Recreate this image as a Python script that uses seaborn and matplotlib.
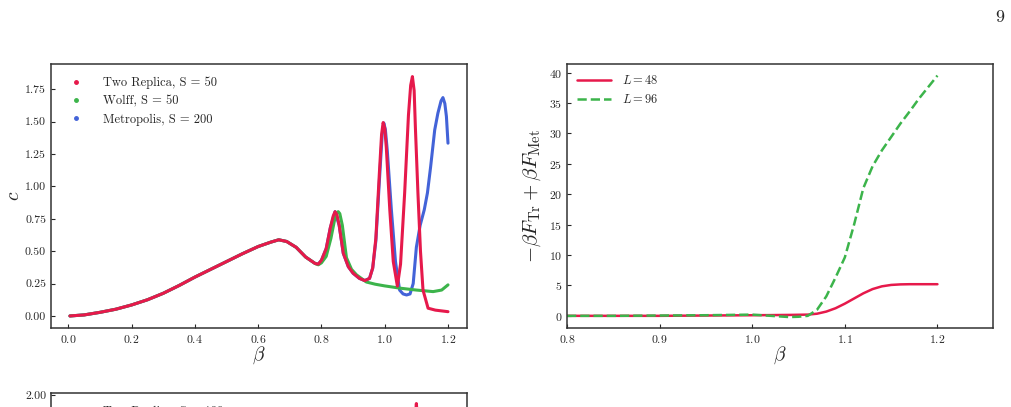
import matplotlib
matplotlib.use("Agg")
import matplotlib.pyplot as plt
from matplotlib.lines import Line2D
from matplotlib.ticker import FormatStrFormatter
import pandas as pd
import seaborn as sns

# ---- left panel: specific heat c vs beta ----
# part shared by all three runs
beta_low = [0.005, 0.05, 0.1, 0.15, 0.2, 0.25, 0.3, 0.35, 0.4, 0.45, 0.5,
            0.55, 0.6, 0.64, 0.665, 0.69, 0.72, 0.75, 0.78]
c_low = [0.0, 0.008, 0.028, 0.052, 0.085, 0.125, 0.175, 0.235, 0.30, 0.36,
         0.42, 0.48, 0.536, 0.57, 0.588, 0.575, 0.53, 0.455, 0.405]

# Two Replica, S = 50
beta_tr = [0.79, 0.80, 0.815, 0.828, 0.837, 0.843, 0.849, 0.856, 0.869, 0.885,
           0.9, 0.92, 0.937, 0.952, 0.962, 0.972, 0.983, 0.99, 0.995, 1.0,
           1.005, 1.016, 1.027, 1.04, 1.05, 1.063, 1.075, 1.082, 1.0875, 1.093,
           1.097, 1.105, 1.113, 1.121, 1.137, 1.16, 1.2]
c_tr = [0.40, 0.43, 0.52, 0.68, 0.77, 0.805, 0.78, 0.70, 0.484, 0.38, 0.33,
        0.29, 0.273, 0.29, 0.37, 0.60, 1.10, 1.40, 1.493, 1.45, 1.30, 0.82,
        0.42, 0.23, 0.40, 0.95, 1.55, 1.78, 1.848, 1.74, 1.45, 0.947, 0.50,
        0.20, 0.06, 0.045, 0.033]

# Wolff, S = 50
beta_wo = [0.79, 0.80, 0.815, 0.83, 0.843, 0.849, 0.853, 0.858, 0.866, 0.879,
           0.895, 0.911, 0.942, 0.97, 1.0, 1.05, 1.1, 1.153, 1.18, 1.2]
c_wo = [0.395, 0.41, 0.46, 0.60, 0.76, 0.795, 0.805, 0.79, 0.70, 0.45, 0.36,
        0.317, 0.262, 0.245, 0.232, 0.214, 0.20, 0.188, 0.20, 0.24]

# Metropolis, S = 200
beta_me = [0.79, 0.80, 0.815, 0.828, 0.843, 0.856, 0.869, 0.885, 0.9, 0.92,
           0.937, 0.952, 0.962, 0.972, 0.984, 0.992, 0.997, 1.002, 1.008,
           1.021, 1.034, 1.047, 1.058, 1.069, 1.08, 1.09, 1.1, 1.112, 1.125,
           1.135, 1.145, 1.158, 1.168, 1.178, 1.184, 1.19, 1.195, 1.2]
c_me = [0.40, 0.43, 0.52, 0.68, 0.805, 0.70, 0.484, 0.38, 0.33, 0.29, 0.273,
        0.29, 0.37, 0.58, 1.08, 1.40, 1.49, 1.44, 1.28, 0.82, 0.42, 0.20,
        0.17, 0.162, 0.17, 0.25, 0.53, 0.70, 0.82, 0.95, 1.15, 1.436, 1.565,
        1.66, 1.686, 1.64, 1.54, 1.334]

# ---- right panel: free energy difference ----
beta_48 = [0.8, 0.85, 0.9, 0.95, 1.0, 1.02, 1.04, 1.06, 1.07, 1.08, 1.09,
           1.1, 1.11, 1.12, 1.13, 1.14, 1.15, 1.16, 1.17, 1.2]
f_48 = [0.0, 0.0, 0.0, 0.05, 0.1, 0.12, 0.15, 0.2, 0.35, 0.7, 1.25, 2.0,
        2.85, 3.7, 4.4, 4.85, 5.08, 5.17, 5.2, 5.2]
beta_96 = [0.8, 0.85, 0.9, 0.95, 1.0, 1.02, 1.04, 1.05, 1.06, 1.07, 1.08,
           1.09, 1.1, 1.11, 1.12, 1.13, 1.14, 1.15, 1.16, 1.17, 1.18, 1.19, 1.2]
f_96 = [0.0, 0.0, 0.05, 0.1, 0.2, 0.0, -0.2, -0.15, 0.0, 1.0, 3.2, 6.3, 9.6,
        15.0, 21.0, 24.6, 27.2, 29.4, 31.6, 33.6, 35.7, 37.6, 39.5]

# ---- bottom panel (only its top edge is on the page) ----
beta_b = [1.08, 1.09, 1.1, 1.11, 1.12]
c_b = [0.9, 1.6, 1.93, 1.6, 0.9]

red, green, blue = "#e6194b", "#3cb44b", "#4363d8"

sns.set_style("ticks")
plt.rcParams.update({
    "font.family": "serif",
    "font.serif": ["cmr10"],
    "mathtext.fontset": "cm",
    "axes.unicode_minus": False,
    "axes.formatter.use_mathtext": True,
    "xtick.direction": "in",
    "ytick.direction": "in",
    "xtick.major.size": 3.2,
    "ytick.major.size": 3.2,
    "xtick.labelsize": 8.5,
    "ytick.labelsize": 8.5,
    "axes.edgecolor": "#333333",
    "axes.linewidth": 1.1,
})

fig = plt.figure(figsize=(10.11, 4.07), dpi=100)
ax1 = fig.add_axes([0.0504, 0.1941, 0.4115, 0.6486])
ax2 = fig.add_axes([0.5608, 0.1941, 0.4214, 0.6486])
ax3 = fig.add_axes([0.0504, -0.614, 0.4115, 0.6486])

df_me = pd.DataFrame({"beta": beta_low + beta_me, "c": c_low + c_me})
df_wo = pd.DataFrame({"beta": beta_low + beta_wo, "c": c_low + c_wo})
df_tr = pd.DataFrame({"beta": beta_low + beta_tr, "c": c_low + c_tr})
sns.lineplot(data=df_me, x="beta", y="c", ax=ax1, color=blue, linewidth=2.2)
sns.lineplot(data=df_wo, x="beta", y="c", ax=ax1, color=green, linewidth=2.2)
sns.lineplot(data=df_tr, x="beta", y="c", ax=ax1, color=red, linewidth=2.2)
ax1.set_xlim(-0.055, 1.26)
ax1.set_ylim(-0.093, 1.945)
ax1.set_yticks([0, 0.25, 0.5, 0.75, 1.0, 1.25, 1.5, 1.75])
ax1.yaxis.set_major_formatter(FormatStrFormatter("%.2f"))
ax1.set_xlabel(r"$\beta$", fontsize=14, labelpad=0)
ax1.set_ylabel(r"$c$", fontsize=14, labelpad=1)
handles = [Line2D([], [], color=col, marker="o", linestyle="none", markersize=2.5)
           for col in (red, green, blue)]
ax1.legend(handles, ["Two Replica, S = 50", "Wolff, S = 50", "Metropolis, S = 200"],
           loc="upper left", frameon=False, fontsize=9, handletextpad=1.2,
           borderaxespad=0.6)

df_48 = pd.DataFrame({"beta": beta_48, "f": f_48})
df_96 = pd.DataFrame({"beta": beta_96, "f": f_96})
sns.lineplot(data=df_48, x="beta", y="f", ax=ax2, color=red, linewidth=1.8,
             label=r"$L = 48$")
sns.lineplot(data=df_96, x="beta", y="f", ax=ax2, color=green, linewidth=1.8,
             linestyle="--", label=r"$L = 96$")
ax2.set_xlim(0.8, 1.26)
ax2.set_ylim(-2.0, 41.4)
ax2.set_xticks([0.8, 0.9, 1.0, 1.1, 1.2])
ax2.set_yticks(range(0, 41, 5))
ax2.set_xlabel(r"$\beta$", fontsize=14, labelpad=0)
ax2.set_ylabel(r"$-\beta F_{\rm Tr} + \beta F_{\rm Met}$", fontsize=15, labelpad=4)
ax2.legend(loc="upper left", frameon=False, fontsize=9, handlelength=2.7,
           handletextpad=0.9, borderaxespad=0.4)

df_b = pd.DataFrame({"beta": beta_b, "c": c_b})
sns.lineplot(data=df_b, x="beta", y="c", ax=ax3, color=red, linewidth=2.2)
ax3.set_xlim(-0.055, 1.26)
ax3.set_ylim(-0.1, 2.015)
ax3.set_yticks([0, 0.5, 1.0, 1.5, 2.0])
ax3.yaxis.set_major_formatter(FormatStrFormatter("%.2f"))
ax3.set_xlabel("")
ax3.set_ylabel("")
ax3.legend([Line2D([], [], color=red, marker="o", linestyle="none", markersize=2.5)],
           ["Two Replica, S = 100"], loc="upper left", frameon=False, fontsize=9,
           handletextpad=1.2, borderaxespad=0.6)

fig.text(0.989, 0.958, "9", fontsize=13, ha="center", va="center")

fig.savefig("out.png", dpi=100)
